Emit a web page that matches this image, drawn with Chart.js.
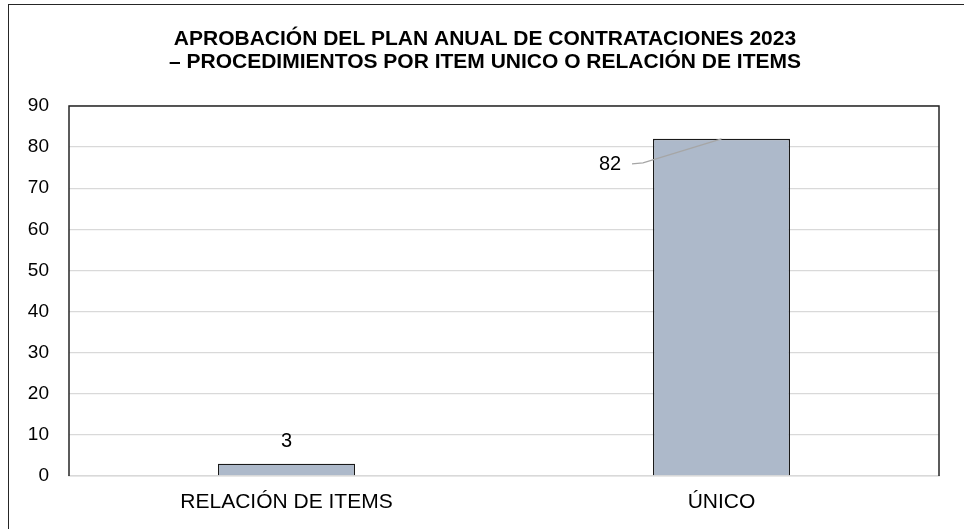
<!DOCTYPE html>
<html>
<head>
<meta charset="utf-8">
<script src="https://cdn.jsdelivr.net/npm/chart.js@4.4.0/dist/chart.umd.min.js"></script>
<style>
  html, body { margin: 0; padding: 0; background: #fff; }
  #wrap { position: relative; width: 964px; height: 529px; overflow: hidden; }
  #frame { position: absolute; left: 8px; top: 4px; width: 1000px; height: 600px;
           border-left: 1.5px solid #262626; border-top: 1.5px solid #262626; pointer-events: none; }
  canvas { position: absolute; left: 0; top: 0; }
</style>
</head>
<body>
<div id="wrap">
  <canvas id="c" width="964" height="529"></canvas>
  <div id="frame"></div>
</div>
<script>
const categories = ["RELACIÓN DE ITEMS", "ÚNICO"];
const values = [3, 82];
const titleLines = ["APROBACIÓN DEL PLAN ANUAL DE CONTRATACIONES 2023", "– PROCEDIMIENTOS POR ITEM UNICO O RELACIÓN DE ITEMS"];
const yMin = 0, yMax = 90, yStep = 10;

const FONT = "'Liberation Sans', Arial, sans-serif";

const plotFrame = {
  id: 'plotFrame',
  afterDatasetsDraw(chart) {
    const {ctx, chartArea: a} = chart;
    ctx.save();
    ctx.strokeStyle = '#262626';
    ctx.lineWidth = 1.5;
    ctx.beginPath();
    ctx.moveTo(a.left, a.bottom);
    ctx.lineTo(a.left, a.top);
    ctx.lineTo(a.right, a.top);
    ctx.lineTo(a.right, a.bottom);
    ctx.stroke();
    ctx.restore();
  }
};

const dataLabels = {
  id: 'dataLabels',
  afterDatasetsDraw(chart) {
    const {ctx} = chart;
    const meta = chart.getDatasetMeta(0);
    ctx.save();
    ctx.font = "20px " + FONT;
    ctx.fillStyle = '#000';
    ctx.textAlign = 'center';
    ctx.textBaseline = 'middle';
    meta.data.forEach((bar, i) => {
      const v = chart.data.datasets[0].data[i];
      if (i === 0) {
        ctx.fillText(String(v), bar.x, bar.y - 22);
      } else {
        const lx = bar.x - 111.5, ly = bar.y + 26;
        ctx.strokeStyle = '#a6a6a6';
        ctx.lineWidth = 1.3;
        ctx.beginPath();
        ctx.moveTo(lx + 22, ly - 1);
        ctx.lineTo(lx + 33, ly - 2);
        ctx.lineTo(bar.x, bar.y);
        ctx.stroke();
        ctx.fillText(String(v), lx, ly);
      }
    });
    ctx.restore();
  }
};

new Chart(document.getElementById('c'), {
  type: 'bar',
  data: {
    labels: categories,
    datasets: [{
      data: values,
      backgroundColor: '#ADB9CA',
      borderColor: '#1a1a1a',
      borderWidth: 1.3,
      borderSkipped: 'start',
      barPercentage: 0.63,
      categoryPercentage: 0.5
    }]
  },
  options: {
    responsive: false,
    animation: false,
    devicePixelRatio: 1,
    layout: { padding: { left: 6, right: 0, top: 18, bottom: 0 } },
    plugins: {
      legend: { display: false },
      tooltip: { enabled: false },
      title: {
        display: true,
        text: titleLines,
        color: '#000',
        font: { family: FONT, size: 21, weight: 'bold', lineHeight: 1.07 },
        padding: { top: 10, bottom: 33 }
      }
    },
    scales: {
      x: {
        grid: { display: false, drawTicks: false },
        border: { display: true, color: '#d9d9d9', width: 1.5 },
        ticks: { color: '#000', font: { family: FONT, size: 21 }, padding: 14, maxRotation: 0 },
        afterFit(s) { s.height = 53; s.paddingLeft = 0; s.paddingRight = 0; }
      },
      y: {
        min: yMin, max: yMax,
        grid: { color: '#d9d9d9', lineWidth: 1.3, drawTicks: false },
        border: { display: false },
        ticks: { stepSize: yStep, color: '#000', font: { family: FONT, size: 19 }, padding: 20 },
        afterFit(s) { s.width = 63; s.paddingTop = 0; s.paddingBottom = 0; }
      },
      y2: {
        position: 'right',
        display: true,
        min: yMin, max: yMax,
        grid: { display: false, drawTicks: false },
        border: { display: false },
        ticks: { display: false },
        afterFit(s) { s.width = 25; s.paddingTop = 0; s.paddingBottom = 0; }
      }
    }
  },
  plugins: [plotFrame, dataLabels]
});
</script>
</body>
</html>
